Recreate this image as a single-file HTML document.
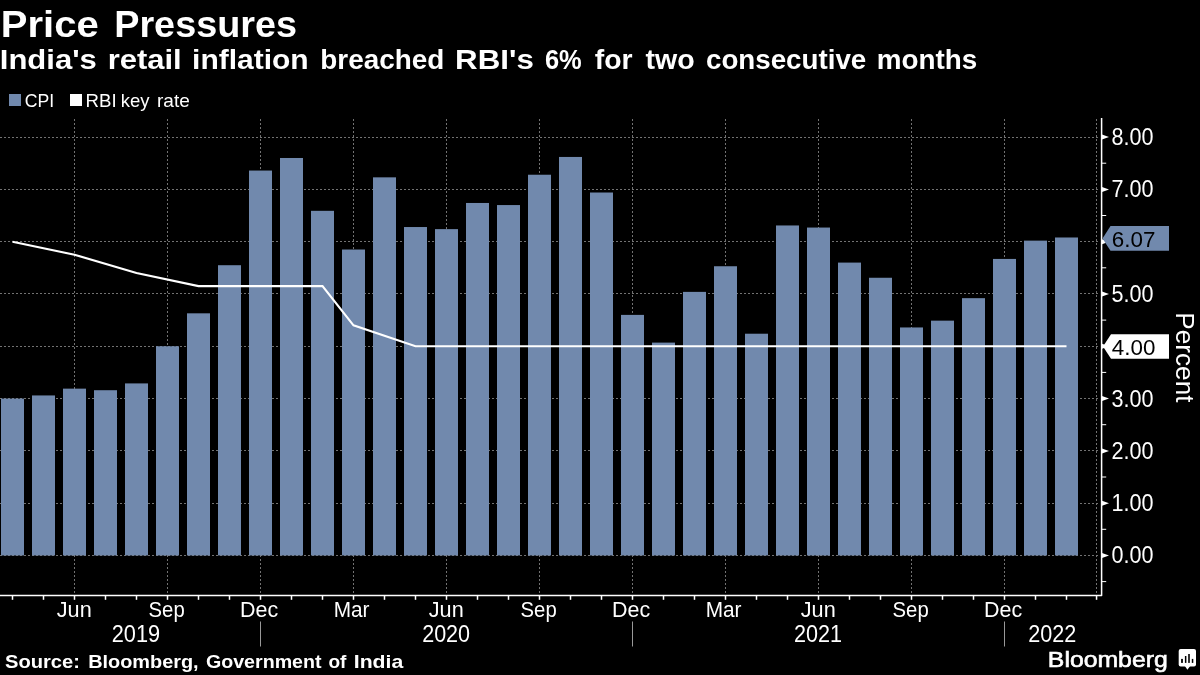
<!DOCTYPE html>
<html><head><meta charset="utf-8"><style>
html,body{margin:0;padding:0;background:#000;width:1200px;height:675px;overflow:hidden}
svg{display:block;will-change:transform}
</style></head><body>
<svg width="1200" height="675" viewBox="0 0 1200 675">
<rect width="1200" height="675" fill="#000"/>
<line x1="0" y1="555.5" x2="1098" y2="555.5" stroke="#727272" stroke-width="1" stroke-dasharray="2 2"/>
<line x1="0" y1="503.5" x2="1098" y2="503.5" stroke="#727272" stroke-width="1" stroke-dasharray="2 2"/>
<line x1="0" y1="450.5" x2="1098" y2="450.5" stroke="#727272" stroke-width="1" stroke-dasharray="2 2"/>
<line x1="0" y1="398.5" x2="1098" y2="398.5" stroke="#727272" stroke-width="1" stroke-dasharray="2 2"/>
<line x1="0" y1="346.5" x2="1098" y2="346.5" stroke="#727272" stroke-width="1" stroke-dasharray="2 2"/>
<line x1="0" y1="293.5" x2="1098" y2="293.5" stroke="#727272" stroke-width="1" stroke-dasharray="2 2"/>
<line x1="0" y1="241.5" x2="1098" y2="241.5" stroke="#727272" stroke-width="1" stroke-dasharray="2 2"/>
<line x1="0" y1="189.5" x2="1098" y2="189.5" stroke="#727272" stroke-width="1" stroke-dasharray="2 2"/>
<line x1="0" y1="137.5" x2="1098" y2="137.5" stroke="#727272" stroke-width="1" stroke-dasharray="2 2"/>
<line x1="74.5" y1="119" x2="74.5" y2="595" stroke="#727272" stroke-width="1" stroke-dasharray="2 2"/>
<line x1="167.5" y1="119" x2="167.5" y2="595" stroke="#727272" stroke-width="1" stroke-dasharray="2 2"/>
<line x1="260.5" y1="119" x2="260.5" y2="595" stroke="#727272" stroke-width="1" stroke-dasharray="2 2"/>
<line x1="353.5" y1="119" x2="353.5" y2="595" stroke="#727272" stroke-width="1" stroke-dasharray="2 2"/>
<line x1="446.5" y1="119" x2="446.5" y2="595" stroke="#727272" stroke-width="1" stroke-dasharray="2 2"/>
<line x1="539.5" y1="119" x2="539.5" y2="595" stroke="#727272" stroke-width="1" stroke-dasharray="2 2"/>
<line x1="632.5" y1="119" x2="632.5" y2="595" stroke="#727272" stroke-width="1" stroke-dasharray="2 2"/>
<line x1="725.5" y1="119" x2="725.5" y2="595" stroke="#727272" stroke-width="1" stroke-dasharray="2 2"/>
<line x1="818.5" y1="119" x2="818.5" y2="595" stroke="#727272" stroke-width="1" stroke-dasharray="2 2"/>
<line x1="911.5" y1="119" x2="911.5" y2="595" stroke="#727272" stroke-width="1" stroke-dasharray="2 2"/>
<line x1="1004.5" y1="119" x2="1004.5" y2="595" stroke="#727272" stroke-width="1" stroke-dasharray="2 2"/>
<line x1="1096.5" y1="119" x2="1096.5" y2="595" stroke="#727272" stroke-width="1" stroke-dasharray="2 2"/>
<rect x="1" y="398.57" width="23" height="156.88" fill="#7189ad"/>
<rect x="32" y="395.44" width="23" height="160.01" fill="#7189ad"/>
<rect x="63" y="388.64" width="23" height="166.81" fill="#7189ad"/>
<rect x="94" y="390.21" width="23" height="165.25" fill="#7189ad"/>
<rect x="125" y="383.41" width="23" height="172.04" fill="#7189ad"/>
<rect x="156" y="346.27" width="23" height="209.18" fill="#7189ad"/>
<rect x="187" y="313.32" width="23" height="242.13" fill="#7189ad"/>
<rect x="218" y="265.21" width="23" height="290.24" fill="#7189ad"/>
<rect x="249" y="170.55" width="23" height="384.90" fill="#7189ad"/>
<rect x="280" y="157.99" width="23" height="397.46" fill="#7189ad"/>
<rect x="311" y="210.82" width="23" height="344.63" fill="#7189ad"/>
<rect x="342" y="249.52" width="23" height="305.93" fill="#7189ad"/>
<rect x="373" y="177.34" width="23" height="378.11" fill="#7189ad"/>
<rect x="404" y="227.03" width="23" height="328.42" fill="#7189ad"/>
<rect x="435" y="229.12" width="23" height="326.33" fill="#7189ad"/>
<rect x="466" y="202.97" width="23" height="352.48" fill="#7189ad"/>
<rect x="497" y="205.06" width="23" height="350.39" fill="#7189ad"/>
<rect x="528" y="174.73" width="23" height="380.72" fill="#7189ad"/>
<rect x="559" y="156.95" width="23" height="398.50" fill="#7189ad"/>
<rect x="590" y="192.51" width="23" height="362.94" fill="#7189ad"/>
<rect x="621" y="314.89" width="23" height="240.56" fill="#7189ad"/>
<rect x="652" y="342.61" width="23" height="212.84" fill="#7189ad"/>
<rect x="683" y="291.88" width="23" height="263.57" fill="#7189ad"/>
<rect x="714" y="266.25" width="23" height="289.20" fill="#7189ad"/>
<rect x="745" y="333.72" width="23" height="221.73" fill="#7189ad"/>
<rect x="776" y="225.46" width="23" height="329.99" fill="#7189ad"/>
<rect x="807" y="227.55" width="23" height="327.90" fill="#7189ad"/>
<rect x="838" y="262.59" width="23" height="292.86" fill="#7189ad"/>
<rect x="869" y="277.76" width="23" height="277.69" fill="#7189ad"/>
<rect x="900" y="327.45" width="23" height="228.00" fill="#7189ad"/>
<rect x="931" y="320.65" width="23" height="234.80" fill="#7189ad"/>
<rect x="962" y="298.16" width="23" height="257.29" fill="#7189ad"/>
<rect x="993" y="258.93" width="23" height="296.52" fill="#7189ad"/>
<rect x="1024" y="240.63" width="23" height="314.82" fill="#7189ad"/>
<rect x="1055" y="237.49" width="23" height="317.96" fill="#7189ad"/>
<polyline points="12.5,241.7 74.5,254.7 136.5,273.0 198.5,286.1 322.5,286.1 353.5,325.3 415.5,346.3 1066.5,346.3" fill="none" stroke="#fff" stroke-width="2.1" stroke-linejoin="miter"/>
<path d="M0,595.4 L1101.6,595.4 L1101.6,118" fill="none" stroke="#fff" stroke-width="1.5" stroke-linejoin="round"/>
<rect x="11.75" y="596" width="1.5" height="3.8" fill="#fff"/>
<rect x="42.75" y="596" width="1.5" height="3.8" fill="#fff"/>
<rect x="73.75" y="596" width="1.5" height="3.8" fill="#fff"/>
<rect x="104.75" y="596" width="1.5" height="3.8" fill="#fff"/>
<rect x="135.75" y="596" width="1.5" height="3.8" fill="#fff"/>
<rect x="166.75" y="596" width="1.5" height="3.8" fill="#fff"/>
<rect x="197.75" y="596" width="1.5" height="3.8" fill="#fff"/>
<rect x="228.75" y="596" width="1.5" height="3.8" fill="#fff"/>
<rect x="259.75" y="596" width="1.5" height="3.8" fill="#fff"/>
<rect x="290.75" y="596" width="1.5" height="3.8" fill="#fff"/>
<rect x="321.75" y="596" width="1.5" height="3.8" fill="#fff"/>
<rect x="352.75" y="596" width="1.5" height="3.8" fill="#fff"/>
<rect x="383.75" y="596" width="1.5" height="3.8" fill="#fff"/>
<rect x="414.75" y="596" width="1.5" height="3.8" fill="#fff"/>
<rect x="445.75" y="596" width="1.5" height="3.8" fill="#fff"/>
<rect x="476.75" y="596" width="1.5" height="3.8" fill="#fff"/>
<rect x="507.75" y="596" width="1.5" height="3.8" fill="#fff"/>
<rect x="538.75" y="596" width="1.5" height="3.8" fill="#fff"/>
<rect x="569.75" y="596" width="1.5" height="3.8" fill="#fff"/>
<rect x="600.75" y="596" width="1.5" height="3.8" fill="#fff"/>
<rect x="631.75" y="596" width="1.5" height="3.8" fill="#fff"/>
<rect x="662.75" y="596" width="1.5" height="3.8" fill="#fff"/>
<rect x="693.75" y="596" width="1.5" height="3.8" fill="#fff"/>
<rect x="724.75" y="596" width="1.5" height="3.8" fill="#fff"/>
<rect x="755.75" y="596" width="1.5" height="3.8" fill="#fff"/>
<rect x="786.75" y="596" width="1.5" height="3.8" fill="#fff"/>
<rect x="817.75" y="596" width="1.5" height="3.8" fill="#fff"/>
<rect x="848.75" y="596" width="1.5" height="3.8" fill="#fff"/>
<rect x="879.75" y="596" width="1.5" height="3.8" fill="#fff"/>
<rect x="910.75" y="596" width="1.5" height="3.8" fill="#fff"/>
<rect x="941.75" y="596" width="1.5" height="3.8" fill="#fff"/>
<rect x="972.75" y="596" width="1.5" height="3.8" fill="#fff"/>
<rect x="1003.75" y="596" width="1.5" height="3.8" fill="#fff"/>
<rect x="1034.75" y="596" width="1.5" height="3.8" fill="#fff"/>
<rect x="1065.75" y="596" width="1.5" height="3.8" fill="#fff"/>
<rect x="1095.80" y="596" width="1.5" height="3.8" fill="#fff"/>
<path d="M1102,553.0 L1109,555.5 L1102,558.0 Z" fill="#fff"/>
<path d="M1102,500.7 L1109,503.2 L1102,505.7 Z" fill="#fff"/>
<path d="M1102,448.4 L1109,450.9 L1102,453.4 Z" fill="#fff"/>
<path d="M1102,396.1 L1109,398.6 L1102,401.1 Z" fill="#fff"/>
<path d="M1102,343.8 L1109,346.3 L1102,348.8 Z" fill="#fff"/>
<path d="M1102,291.5 L1109,294.0 L1102,296.5 Z" fill="#fff"/>
<path d="M1102,239.2 L1109,241.7 L1102,244.2 Z" fill="#fff"/>
<path d="M1102,186.9 L1109,189.4 L1102,191.9 Z" fill="#fff"/>
<path d="M1102,134.6 L1109,137.1 L1102,139.6 Z" fill="#fff"/>
<rect x="1102" y="581.1" width="4.2" height="1" fill="#fff"/>
<rect x="1102" y="528.8" width="4.2" height="1" fill="#fff"/>
<rect x="1102" y="476.5" width="4.2" height="1" fill="#fff"/>
<rect x="1102" y="424.2" width="4.2" height="1" fill="#fff"/>
<rect x="1102" y="371.9" width="4.2" height="1" fill="#fff"/>
<rect x="1102" y="319.6" width="4.2" height="1" fill="#fff"/>
<rect x="1102" y="267.3" width="4.2" height="1" fill="#fff"/>
<rect x="1102" y="215.0" width="4.2" height="1" fill="#fff"/>
<rect x="1102" y="162.7" width="4.2" height="1" fill="#fff"/>
<text x="1111.6" y="563.4" font-family="Liberation Sans, sans-serif" font-size="23.5" fill="#fff" textLength="42" lengthAdjust="spacingAndGlyphs">0.00</text>
<text x="1111.6" y="511.1" font-family="Liberation Sans, sans-serif" font-size="23.5" fill="#fff" textLength="42" lengthAdjust="spacingAndGlyphs">1.00</text>
<text x="1111.6" y="458.8" font-family="Liberation Sans, sans-serif" font-size="23.5" fill="#fff" textLength="42" lengthAdjust="spacingAndGlyphs">2.00</text>
<text x="1111.6" y="406.5" font-family="Liberation Sans, sans-serif" font-size="23.5" fill="#fff" textLength="42" lengthAdjust="spacingAndGlyphs">3.00</text>
<text x="1111.6" y="301.9" font-family="Liberation Sans, sans-serif" font-size="23.5" fill="#fff" textLength="42" lengthAdjust="spacingAndGlyphs">5.00</text>
<text x="1111.6" y="197.3" font-family="Liberation Sans, sans-serif" font-size="23.5" fill="#fff" textLength="42" lengthAdjust="spacingAndGlyphs">7.00</text>
<text x="1111.6" y="145.0" font-family="Liberation Sans, sans-serif" font-size="23.5" fill="#fff" textLength="42" lengthAdjust="spacingAndGlyphs">8.00</text>
<path d="M1102.5,238.4 L1110.5,226.0 L1169,226.0 L1169,250.8 L1110.5,250.8 Z" fill="#7189ad"/>
<text x="1111.8" y="247.0" font-family="Liberation Sans, sans-serif" font-size="22.5" fill="#000" textLength="43.6" lengthAdjust="spacingAndGlyphs">6.07</text>
<path d="M1103,346.45 L1111,334.15 L1169,334.15 L1169,358.75 L1111,358.75 Z" fill="#fff"/>
<text x="1111.8" y="354.8" font-family="Liberation Sans, sans-serif" font-size="21.8" fill="#000" textLength="43.6" lengthAdjust="spacingAndGlyphs">4.00</text>
<text transform="translate(1175.5,312.2) rotate(90)" x="0" y="0" font-family="Liberation Sans, sans-serif" font-size="25.5" fill="#fff" textLength="90.3" lengthAdjust="spacingAndGlyphs">Percent</text>
<rect x="260.0" y="621.5" width="1" height="25" fill="#999"/>
<rect x="632.0" y="621.5" width="1" height="25" fill="#999"/>
<rect x="1004.0" y="621.5" width="1" height="25" fill="#999"/>
<text x="0.84" y="37" font-family="Liberation Sans, sans-serif" font-weight="bold" font-size="37" fill="#fff" textLength="97.9" lengthAdjust="spacingAndGlyphs">Price</text>
<text x="114.21" y="37" font-family="Liberation Sans, sans-serif" font-weight="bold" font-size="37" fill="#fff" textLength="182.78" lengthAdjust="spacingAndGlyphs">Pressures</text>
<text x="-0.22" y="69" font-family="Liberation Sans, sans-serif" font-weight="bold" font-size="28" fill="#fff" textLength="97.11" lengthAdjust="spacingAndGlyphs">India&#39;s</text>
<text x="107.79" y="69" font-family="Liberation Sans, sans-serif" font-weight="bold" font-size="28" fill="#fff" textLength="73.95" lengthAdjust="spacingAndGlyphs">retail</text>
<text x="192.06" y="69" font-family="Liberation Sans, sans-serif" font-weight="bold" font-size="28" fill="#fff" textLength="116.65" lengthAdjust="spacingAndGlyphs">inflation</text>
<text x="320.31" y="69" font-family="Liberation Sans, sans-serif" font-weight="bold" font-size="28" fill="#fff" textLength="123.88" lengthAdjust="spacingAndGlyphs">breached</text>
<text x="455.06" y="69" font-family="Liberation Sans, sans-serif" font-weight="bold" font-size="28" fill="#fff" textLength="78.74" lengthAdjust="spacingAndGlyphs">RBI&#39;s</text>
<text x="544.89" y="69" font-family="Liberation Sans, sans-serif" font-weight="bold" font-size="28" fill="#fff" textLength="36.79" lengthAdjust="spacingAndGlyphs">6%</text>
<text x="594.8" y="69" font-family="Liberation Sans, sans-serif" font-weight="bold" font-size="28" fill="#fff" textLength="37.83" lengthAdjust="spacingAndGlyphs">for</text>
<text x="645.6" y="69" font-family="Liberation Sans, sans-serif" font-weight="bold" font-size="28" fill="#fff" textLength="49.14" lengthAdjust="spacingAndGlyphs">two</text>
<text x="706.01" y="69" font-family="Liberation Sans, sans-serif" font-weight="bold" font-size="28" fill="#fff" textLength="160.24" lengthAdjust="spacingAndGlyphs">consecutive</text>
<text x="876.71" y="69" font-family="Liberation Sans, sans-serif" font-weight="bold" font-size="28" fill="#fff" textLength="100.49" lengthAdjust="spacingAndGlyphs">months</text>
<text x="24.79" y="106.8" font-family="Liberation Sans, sans-serif" font-weight="normal" font-size="18.5" fill="#fff" textLength="29.47" lengthAdjust="spacingAndGlyphs">CPI</text>
<text x="85.59" y="106.8" font-family="Liberation Sans, sans-serif" font-weight="normal" font-size="18.5" fill="#fff" textLength="31.06" lengthAdjust="spacingAndGlyphs">RBI</text>
<text x="120.8" y="106.8" font-family="Liberation Sans, sans-serif" font-weight="normal" font-size="18.5" fill="#fff" textLength="28.8" lengthAdjust="spacingAndGlyphs">key</text>
<text x="156.97" y="106.8" font-family="Liberation Sans, sans-serif" font-weight="normal" font-size="18.5" fill="#fff" textLength="32.85" lengthAdjust="spacingAndGlyphs">rate</text>
<text x="5.01" y="668" font-family="Liberation Sans, sans-serif" font-weight="bold" font-size="18.5" fill="#fff" textLength="74.94" lengthAdjust="spacingAndGlyphs">Source:</text>
<text x="88.18" y="668" font-family="Liberation Sans, sans-serif" font-weight="bold" font-size="18.5" fill="#fff" textLength="110.46" lengthAdjust="spacingAndGlyphs">Bloomberg,</text>
<text x="205.94" y="668" font-family="Liberation Sans, sans-serif" font-weight="bold" font-size="18.5" fill="#fff" textLength="115.63" lengthAdjust="spacingAndGlyphs">Government</text>
<text x="328.47" y="668" font-family="Liberation Sans, sans-serif" font-weight="bold" font-size="18.5" fill="#fff" textLength="17.98" lengthAdjust="spacingAndGlyphs">of</text>
<text x="353.75" y="668" font-family="Liberation Sans, sans-serif" font-weight="bold" font-size="18.5" fill="#fff" textLength="49.44" lengthAdjust="spacingAndGlyphs">India</text>
<text x="1047.87" y="667.2" font-family="Liberation Sans, sans-serif" font-weight="normal" font-size="22" fill="#fff" stroke="#fff" stroke-width="0.6" textLength="119.87" lengthAdjust="spacingAndGlyphs">Bloomberg</text>
<text x="56.75" y="616.9" font-family="Liberation Sans, sans-serif" font-weight="normal" font-size="22.5" fill="#fff" textLength="34.93" lengthAdjust="spacingAndGlyphs">Jun</text>
<text x="148.55" y="616.9" font-family="Liberation Sans, sans-serif" font-weight="normal" font-size="22.5" fill="#fff" textLength="36.15" lengthAdjust="spacingAndGlyphs">Sep</text>
<text x="240.04" y="616.9" font-family="Liberation Sans, sans-serif" font-weight="normal" font-size="22.5" fill="#fff" textLength="38.18" lengthAdjust="spacingAndGlyphs">Dec</text>
<text x="333.65" y="616.9" font-family="Liberation Sans, sans-serif" font-weight="normal" font-size="22.5" fill="#fff" textLength="35.82" lengthAdjust="spacingAndGlyphs">Mar</text>
<text x="428.75" y="616.9" font-family="Liberation Sans, sans-serif" font-weight="normal" font-size="22.5" fill="#fff" textLength="34.93" lengthAdjust="spacingAndGlyphs">Jun</text>
<text x="520.55" y="616.9" font-family="Liberation Sans, sans-serif" font-weight="normal" font-size="22.5" fill="#fff" textLength="36.15" lengthAdjust="spacingAndGlyphs">Sep</text>
<text x="612.04" y="616.9" font-family="Liberation Sans, sans-serif" font-weight="normal" font-size="22.5" fill="#fff" textLength="38.18" lengthAdjust="spacingAndGlyphs">Dec</text>
<text x="705.65" y="616.9" font-family="Liberation Sans, sans-serif" font-weight="normal" font-size="22.5" fill="#fff" textLength="35.82" lengthAdjust="spacingAndGlyphs">Mar</text>
<text x="800.75" y="616.9" font-family="Liberation Sans, sans-serif" font-weight="normal" font-size="22.5" fill="#fff" textLength="34.93" lengthAdjust="spacingAndGlyphs">Jun</text>
<text x="892.55" y="616.9" font-family="Liberation Sans, sans-serif" font-weight="normal" font-size="22.5" fill="#fff" textLength="36.15" lengthAdjust="spacingAndGlyphs">Sep</text>
<text x="984.04" y="616.9" font-family="Liberation Sans, sans-serif" font-weight="normal" font-size="22.5" fill="#fff" textLength="38.18" lengthAdjust="spacingAndGlyphs">Dec</text>
<text x="111.76" y="642.3" font-family="Liberation Sans, sans-serif" font-weight="normal" font-size="23" fill="#fff" textLength="48.35" lengthAdjust="spacingAndGlyphs">2019</text>
<text x="422.16" y="642.3" font-family="Liberation Sans, sans-serif" font-weight="normal" font-size="23" fill="#fff" textLength="47.93" lengthAdjust="spacingAndGlyphs">2020</text>
<text x="794.06" y="642.3" font-family="Liberation Sans, sans-serif" font-weight="normal" font-size="23" fill="#fff" textLength="48.04" lengthAdjust="spacingAndGlyphs">2021</text>
<text x="1028.16" y="642.3" font-family="Liberation Sans, sans-serif" font-weight="normal" font-size="23" fill="#fff" textLength="48.04" lengthAdjust="spacingAndGlyphs">2022</text>
<rect x="9" y="94" width="12" height="12" fill="#7189ad"/>
<rect x="70" y="94" width="12" height="12" fill="#fff"/>
<rect x="1178.7" y="649.1" width="17.3" height="17.3" rx="2" fill="#fff"/>
<path d="M1184.9,666 L1190.2,666 L1187.4,669.8 Z" fill="#fff"/>
<rect x="1181.1" y="658.9" width="1.8" height="4.0" fill="#000"/>
<rect x="1184.9" y="656" width="1.5" height="6.9" fill="#000"/>
<rect x="1188.2" y="654" width="1.6" height="8.9" fill="#000"/>
<rect x="1191.8" y="658.9" width="1.5" height="4.0" fill="#000"/>
</svg>
</body></html>
